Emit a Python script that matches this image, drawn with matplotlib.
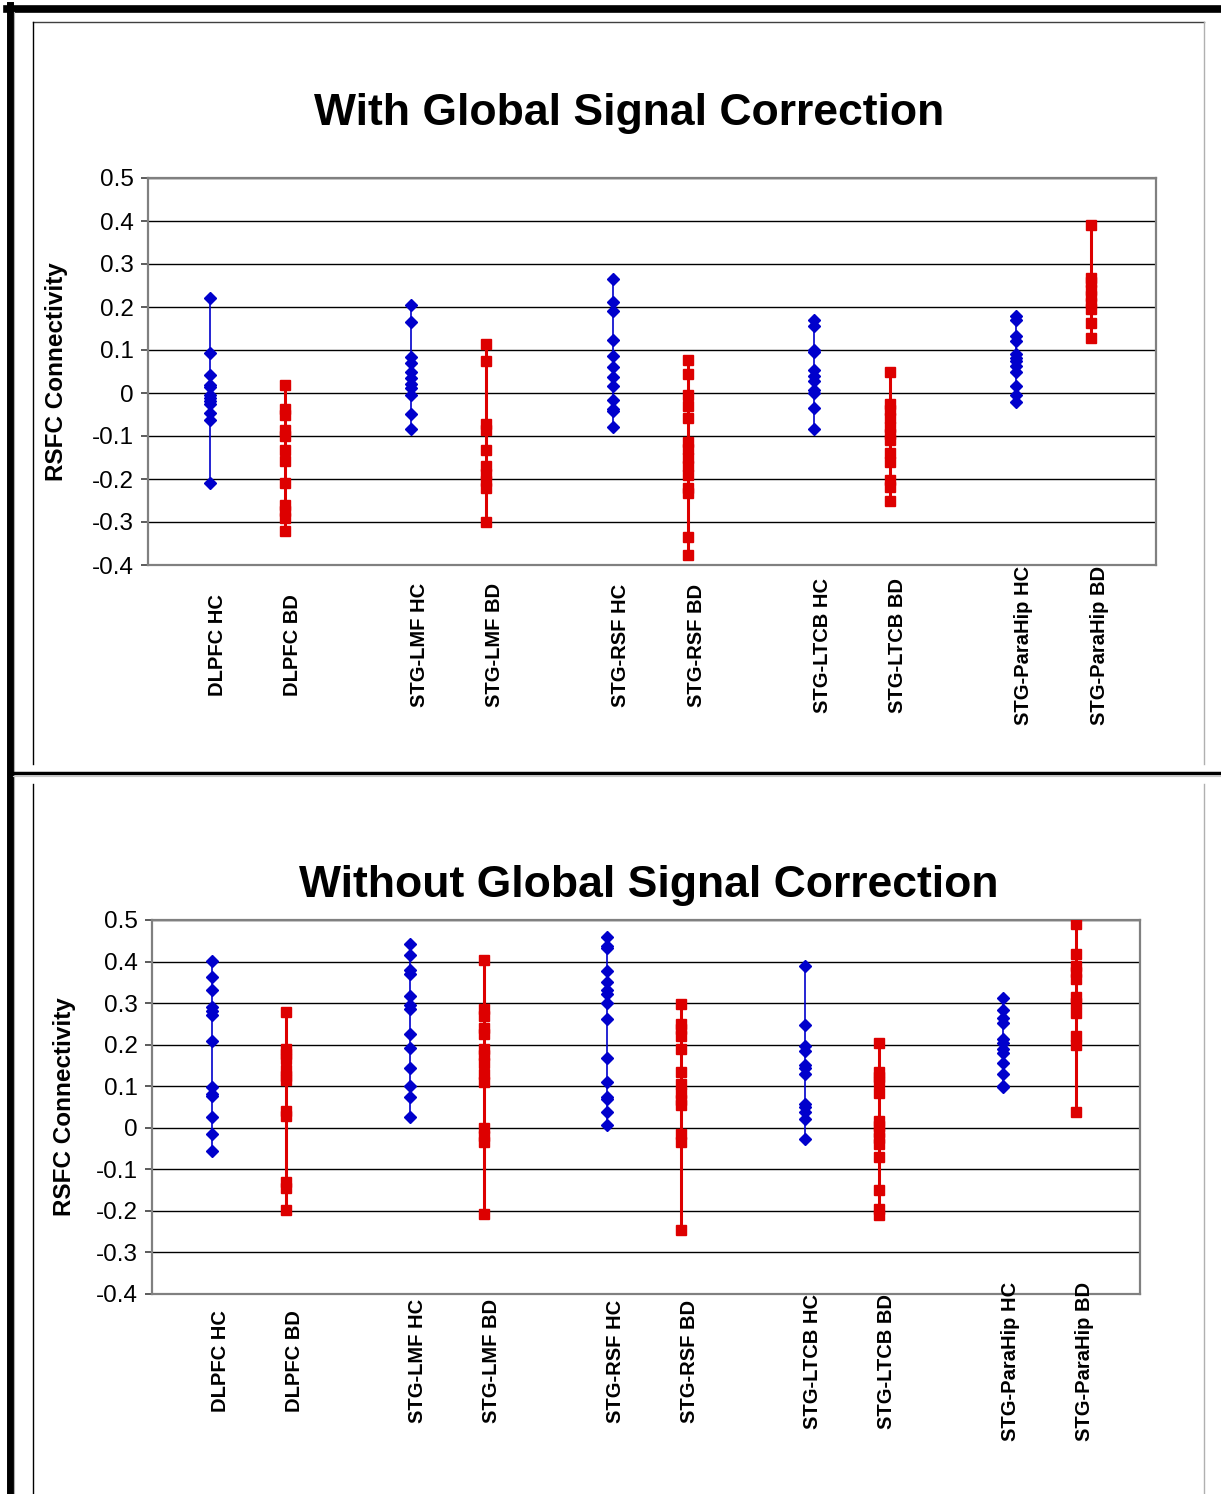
import numpy as np
import matplotlib.pyplot as plt
from matplotlib.lines import Line2D

plt.rcParams['font.family'] = ['Liberation Sans', 'DejaVu Sans']

labels = ["DLPFC HC", "DLPFC BD", "STG-LMF HC", "STG-LMF BD", "STG-RSF HC",
          "STG-RSF BD", "STG-LTCB HC", "STG-LTCB BD", "STG-ParaHip HC", "STG-ParaHip BD"]

# with global signal correction
with_gsc = [
    [0.22, 0.094, 0.042, 0.019, 0.013, -0.005, -0.012, -0.019, -0.026, -0.046, -0.063, -0.209],
    [0.018, -0.038, -0.05, -0.085, -0.1, -0.133, -0.158, -0.209, -0.26, -0.275, -0.29, -0.32],
    [0.204, 0.164, 0.084, 0.07, 0.049, 0.036, 0.022, 0.012, -0.005, -0.049, -0.083],
    [0.114, 0.074, -0.072, -0.085, -0.133, -0.17, -0.188, -0.205, -0.22, -0.299],
    [0.265, 0.211, 0.191, 0.123, 0.087, 0.061, 0.038, 0.016, -0.016, -0.038, -0.043, -0.08],
    [0.077, 0.045, -0.005, -0.03, -0.059, -0.115, -0.13, -0.15, -0.169, -0.19, -0.222, -0.232, -0.336, -0.377],
    [0.17, 0.155, 0.101, 0.096, 0.054, 0.039, 0.027, 0.008, 0.0, -0.036, -0.083],
    [0.05, -0.025, -0.04, -0.058, -0.08, -0.095, -0.11, -0.139, -0.16, -0.202, -0.218, -0.251],
    [0.18, 0.17, 0.132, 0.12, 0.091, 0.081, 0.074, 0.062, 0.05, 0.016, -0.004, -0.022],
    [0.391, 0.268, 0.258, 0.24, 0.225, 0.21, 0.195, 0.163, 0.128],
]

# without global signal correction
without_gsc = [
    [0.402, 0.362, 0.331, 0.291, 0.282, 0.272, 0.208, 0.097, 0.082, 0.077, 0.026, -0.015, -0.057],
    [0.278, 0.19, 0.178, 0.165, 0.14, 0.125, 0.115, 0.04, 0.028, -0.13, -0.145, -0.197],
    [0.442, 0.415, 0.379, 0.371, 0.317, 0.296, 0.287, 0.225, 0.193, 0.143, 0.1, 0.073, 0.025],
    [0.403, 0.285, 0.27, 0.24, 0.225, 0.19, 0.175, 0.155, 0.13, 0.11, 0.0, -0.02, -0.035, -0.208],
    [0.459, 0.438, 0.432, 0.378, 0.352, 0.331, 0.323, 0.301, 0.261, 0.168, 0.111, 0.075, 0.069, 0.039, 0.007],
    [0.297, 0.25, 0.237, 0.222, 0.19, 0.135, 0.105, 0.083, 0.067, 0.055, -0.015, -0.035, -0.247],
    [0.39, 0.248, 0.197, 0.185, 0.151, 0.143, 0.129, 0.058, 0.049, 0.037, 0.021, -0.027],
    [0.203, 0.135, 0.122, 0.11, 0.083, 0.017, 0.005, -0.01, -0.025, -0.04, -0.07, -0.15, -0.196, -0.21],
    [0.312, 0.283, 0.265, 0.253, 0.213, 0.205, 0.189, 0.181, 0.157, 0.129, 0.101, 0.097],
    [0.49, 0.418, 0.39, 0.375, 0.357, 0.315, 0.3, 0.277, 0.22, 0.2, 0.038],
]

yticks = [0.5, 0.4, 0.3, 0.2, 0.1, 0, -0.1, -0.2, -0.3, -0.4]
ytick_labels = ["0.5", "0.4", "0.3", "0.2", "0.1", "0", "-0.1", "-0.2", "-0.3", "-0.4"]

BLUE = "#0000CC"
RED = "#DD0000"


def xpos(i):
    # pairs of columns, HC then BD
    return 0.0611 + (i // 2) * 0.19995 + (i % 2) * 0.0747


def draw_panel(ax, series, title, title_xy, ylab_x, lab_y, fig):
    for i, vals in enumerate(series):
        x = xpos(i)
        xs = [x] * len(vals)
        if i % 2 == 0:
            ax.plot(xs, vals, color=BLUE, lw=1.2, marker='D', ms=6, mec=BLUE, mfc=BLUE, zorder=3)
        else:
            ax.plot(xs, vals, color=RED, lw=2.2, marker='s', ms=7, mec=RED, mfc=RED, zorder=3)
        ax.text(x + 0.008, lab_y, labels[i], transform=ax.get_xaxis_transform(),
                rotation=90, ha='center', va='center', fontsize=14.5, fontweight='bold')
    ax.set_xlim(0, 1)
    ax.set_ylim(-0.4, 0.5)
    ax.set_yticks(yticks)
    ax.set_yticklabels(ytick_labels, fontsize=17.5)
    ax.set_xticks([])
    ax.yaxis.grid(True, color='black', lw=1.0)
    ax.set_axisbelow(True)
    for sp in ax.spines.values():
        sp.set_color('#808080')
        sp.set_linewidth(1.6)
    ax.tick_params(axis='y', length=5, width=1.2, color='#404040', pad=5)
    fig.text(title_xy[0], title_xy[1], title, ha='center', va='center',
             fontsize=32, fontweight='bold')
    fig.text(ylab_x, (ax.get_position().y0 + ax.get_position().y1) / 2, "RSFC Connectivity",
             rotation=90, ha='center', va='center', fontsize=17.5, fontweight='bold')


W, H = 1221, 1494
fig = plt.figure(figsize=(W / 100, H / 100), dpi=100)


def fx(px):
    return px / W


def fy(py):
    return 1 - py / H


def hline(y, x0, x1, color, lw):
    fig.add_artist(Line2D([fx(x0), fx(x1)], [fy(y), fy(y)], color=color, lw=lw))


def vline(x, y0, y1, color, lw):
    fig.add_artist(Line2D([fx(x), fx(x)], [fy(y0), fy(y1)], color=color, lw=lw))


# page frame
hline(8.5, 7, W, 'black', 5.5)
vline(10, 5, H, 'black', 5)
vline(13.5, 12, H, '#b0b0b0', 0.8)
hline(773, 13, W, 'black', 2.5)
hline(775.5, 13, W, '#c8c8c8', 0.8)
# panel boxes
hline(22, 33, 1204, '#404040', 1.0)
vline(33, 22, 764, 'black', 1.0)
vline(1204, 22, 764, '#b0b0b0', 1.0)
vline(33, 784, H, 'black', 1.0)
vline(1204, 784, H, '#b0b0b0', 1.0)

ax1 = fig.add_axes([fx(148), fy(565), fx(1156) - fx(148), fy(178) - fy(565)])
draw_panel(ax1, with_gsc, "With Global Signal Correction", (fx(629), fy(113)), fx(57), -0.207, fig)

ax2 = fig.add_axes([fx(152), fy(1294), fx(1140) - fx(152), fy(920) - fy(1294)])
draw_panel(ax2, without_gsc, "Without Global Signal Correction", (fx(649), fy(885)), fx(65), -0.18, fig)

fig.savefig("out.png", dpi=100)
